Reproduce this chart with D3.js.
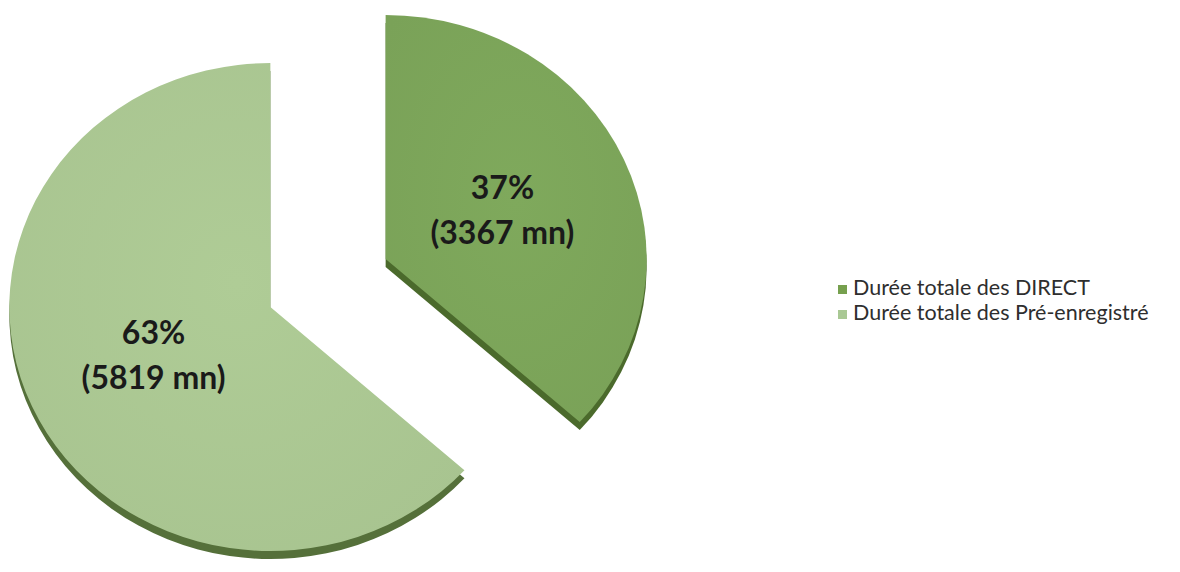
<!DOCTYPE html>
<html>
<head>
<meta charset="utf-8">
<script src="https://cdn.jsdelivr.net/npm/d3@7"></script>
<style>
  html, body { margin: 0; padding: 0; background: #ffffff; }
  svg { display: block; }
</style>
</head>
<body>
<svg id="chart" width="1180" height="572"></svg>
<script>
// Durations in minutes
const categories = ["Durée totale des DIRECT", "Durée totale des Pré-enregistré"];
const minutes = [3367, 5819];
const percentLabels = ["37%", "63%"];

const topColors = ["#7ca55a", "#abc893"];
const sideColors = ["#4b6a2c", "#55703a"];
const legendColors = ["#76a04e", "#a9c894"];

const svg = d3.select("#chart");

// Tilted pie: slightly wider than tall
const ry = 244, rx = 261;
const cx = 328, cy = 283;
const explode = 59;
const depth = 8;

const pie = d3.pie().sort(null).value(d => d)(minutes);
const arc = d3.arc().innerRadius(0).outerRadius(ry);
const labelArc = d3.arc().innerRadius(0).outerRadius(ry * 0.98);

const defs = svg.append("defs");
topColors.forEach((c, i) => {
  const g = defs.append("radialGradient")
    .attr("id", "shade" + i)
    .attr("cx", "50%").attr("cy", "45%").attr("r", "65%");
  g.append("stop").attr("offset", "0%").attr("stop-color", d3.color(c).brighter(0.06));
  g.append("stop").attr("offset", "100%").attr("stop-color", d3.color(c).darker(0.05));
});

const pieG = svg.append("g")
  .attr("transform", `translate(${cx},${cy}) scale(${rx / ry},1)`);

// Larger slice first so the smaller one sits on top
const order = [1, 0];
order.forEach(i => {
  const d = pie[i];
  const mid = (d.startAngle + d.endAngle) / 2;
  const ox = Math.sin(mid) * explode, oy = -Math.cos(mid) * explode;
  const slice = pieG.append("g").attr("transform", `translate(${ox},${oy})`);
  // side wall
  slice.append("path")
    .attr("d", arc(d))
    .attr("transform", `translate(0,${depth})`)
    .attr("fill", sideColors[i]);
  // top face
  slice.append("path")
    .attr("d", arc(d))
    .attr("fill", `url(#shade${i})`);
});

// Value labels at each slice's centroid
pie.forEach((d, i) => {
  const mid = (d.startAngle + d.endAngle) / 2;
  const ox = Math.sin(mid) * explode * rx / ry, oy = -Math.cos(mid) * explode;
  const [lx, ly] = labelArc.centroid(d);
  const x = cx + ox + lx * rx / ry, y = cy + oy + ly - 7;
  const t = svg.append("text")
    .attr("x", x).attr("y", y)
    .attr("text-anchor", "middle")
    .attr("font-family", "Lato, 'Open Sans', sans-serif")
    .attr("font-weight", "bold")
    .attr("font-size", 32)
    .attr("fill", "#1a1a1a");
  t.append("tspan").attr("x", x).attr("dy", "-0.15em").text(percentLabels[i]);
  t.append("tspan").attr("x", x).attr("dy", "1.42em").text(`(${minutes[i]} mn)`);
});

// Legend
const legend = svg.append("g").attr("transform", "translate(838,285)");
categories.forEach((c, i) => {
  const row = legend.append("g").attr("transform", `translate(0,${i * 25})`);
  row.append("rect").attr("width", 9).attr("height", 9).attr("fill", legendColors[i]);
  row.append("text")
    .attr("x", 15).attr("y", 10)
    .attr("font-family", "Lato, 'Open Sans', sans-serif")
    .attr("font-size", 21.5)
    .attr("fill", "#2e2e2e")
    .text(c);
});
</script>
</body>
</html>
